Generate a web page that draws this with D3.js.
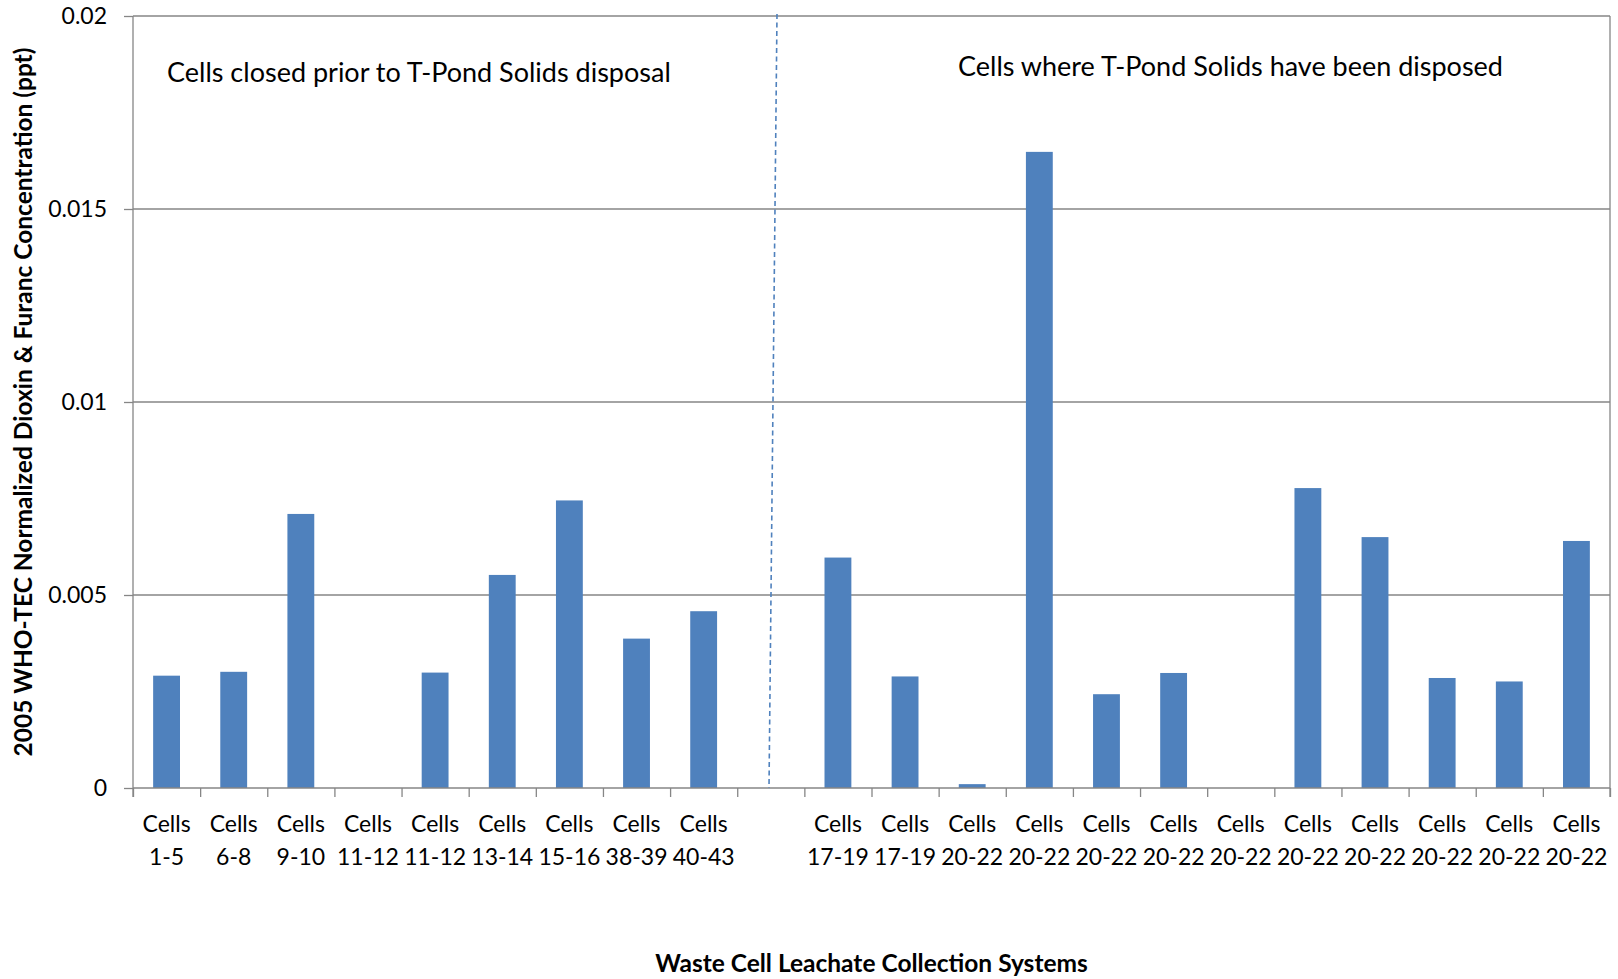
<!DOCTYPE html>
<html>
<head>
<meta charset="utf-8">
<script src="https://cdn.jsdelivr.net/npm/d3@7"></script>
<style>
	body{margin:0;background:#fff;}
	text{font-family:Lato, "Open Sans", sans-serif;fill:#000;}
</style>
</head>
<body>
<svg id="chart" width="1618" height="979"></svg>
<script>
// categories (blank slot separates the two groups)
const labelsTop = ['Cells','Cells','Cells','Cells','Cells','Cells','Cells','Cells','Cells','',
	'Cells','Cells','Cells','Cells','Cells','Cells','Cells','Cells','Cells','Cells','Cells','Cells'];
const labelsBottom = ['1-5','6-8','9-10','11-12','11-12','13-14','15-16','38-39','40-43','',
	'17-19','17-19','20-22','20-22','20-22','20-22','20-22','20-22','20-22','20-22','20-22','20-22'];
const values = [0.00291,0.00301,0.0071,0,0.00299,0.00552,0.00745,0.00387,0.00458,null,
	0.00597,0.00289,0.0001,0.01648,0.00243,0.00298,0,0.00777,0.0065,0.00285,0.00276,0.0064];
const yTicks = [0,0.005,0.01,0.015,0.02];
const yTickLabels = ['0','0.005','0.01','0.015','0.02'];

const svg = d3.select('#chart');
const margin = {t:16,r:8,b:191,l:133};
const width = 1618, height = 979;
const w = width - margin.l - margin.r;
const h = height - margin.t - margin.b;
const plot = svg.append('g').attr('transform',`translate(${margin.l},${margin.t})`);

const idx = d3.range(values.length);
const scaleX = d3.scaleBand().domain(idx).range([0,w]).paddingInner(0).paddingOuter(0);
const scaleY = d3.scaleLinear().domain([0,0.02]).range([h,0]);
const barW = scaleX.bandwidth()/2.5;

//gridlines
plot.selectAll('.grid').data(yTicks.slice(1))
	.enter().append('line')
	.attr('x1',0).attr('x2',w)
	.attr('y1',d => scaleY(d)).attr('y2',d => scaleY(d))
	.style('stroke','#868686').style('stroke-width',1.3);

//bars
plot.selectAll('.bin').data(idx.filter(i => values[i] !== null && values[i] > 0))
	.enter().append('rect')
	.attr('class','bin')
	.attr('x', i => scaleX(i) + (scaleX.bandwidth()-barW)/2)
	.attr('width', barW)
	.attr('y', i => scaleY(values[i]))
	.attr('height', i => h - scaleY(values[i]))
	.style('fill','#4f81bd');

//y axis
const axisY = d3.axisLeft(scaleY).tickValues(yTicks).tickSize(9).tickPadding(17)
	.tickFormat((d,i) => yTickLabels[i]);
const gy = plot.append('g').call(axisY);
gy.select('.domain').attr('d',`M0,0V${h+9}`);
gy.selectAll('line,path').style('stroke','#868686').style('stroke-width',1.3);
gy.selectAll('text').style('font-size','23px').style('font-family','Lato');

//right border
plot.append('line').attr('x1',w).attr('x2',w).attr('y1',0).attr('y2',h+9)
	.style('stroke','#868686').style('stroke-width',1.3);

//x axis: ticks on band edges
const scaleEdge = d3.scaleLinear().domain([0,values.length]).range([0,w]);
const axisX = d3.axisBottom(scaleEdge).tickValues(d3.range(values.length+1)).tickSize(9).tickFormat('');
const gx = plot.append('g').attr('transform',`translate(0,${h})`).call(axisX);
gx.selectAll('line,path').style('stroke','#868686').style('stroke-width',1.3);
gx.select('.domain').attr('d',`M0,0H${w}`);

//category labels
const lab = plot.selectAll('.lab').data(idx).enter().append('text')
	.attr('class','lab')
	.attr('x', i => scaleX(i) + scaleX.bandwidth()/2)
	.attr('y', h + 44)
	.attr('text-anchor','middle')
	.style('font-size','23px');
lab.append('tspan').attr('x', i => scaleX(i) + scaleX.bandwidth()/2).text(i => labelsTop[i]);
lab.append('tspan').attr('x', i => scaleX(i) + scaleX.bandwidth()/2).attr('dy',33).text(i => labelsBottom[i]);

//divider
svg.append('line')
	.attr('x1',777).attr('y1',14).attr('x2',769).attr('y2',margin.t+h)
	.style('stroke','#4f81bd').style('stroke-width',1.6).style('stroke-dasharray','5,3.5');

//annotations
svg.append('text').attr('x',167).attr('y',82).style('font-size','27px')
	.text('Cells closed prior to T-Pond Solids disposal');
svg.append('text').attr('x',958).attr('y',76).style('font-size','27px')
	.text('Cells where T-Pond Solids have been disposed');

//axis titles
svg.append('text')
	.attr('transform',`translate(32,${margin.t+h/2}) rotate(-90)`)
	.attr('text-anchor','middle')
	.style('font-size','24.5px').style('font-weight','bold')
	.text('2005 WHO-TEC Normalized Dioxin & Furanc Concentration (ppt)');
svg.append('text')
	.attr('x',margin.l+w/2).attr('y',972)
	.attr('text-anchor','middle')
	.style('font-size','24.5px').style('font-weight','bold')
	.text('Waste Cell Leachate Collection Systems');
</script>
</body>
</html>
